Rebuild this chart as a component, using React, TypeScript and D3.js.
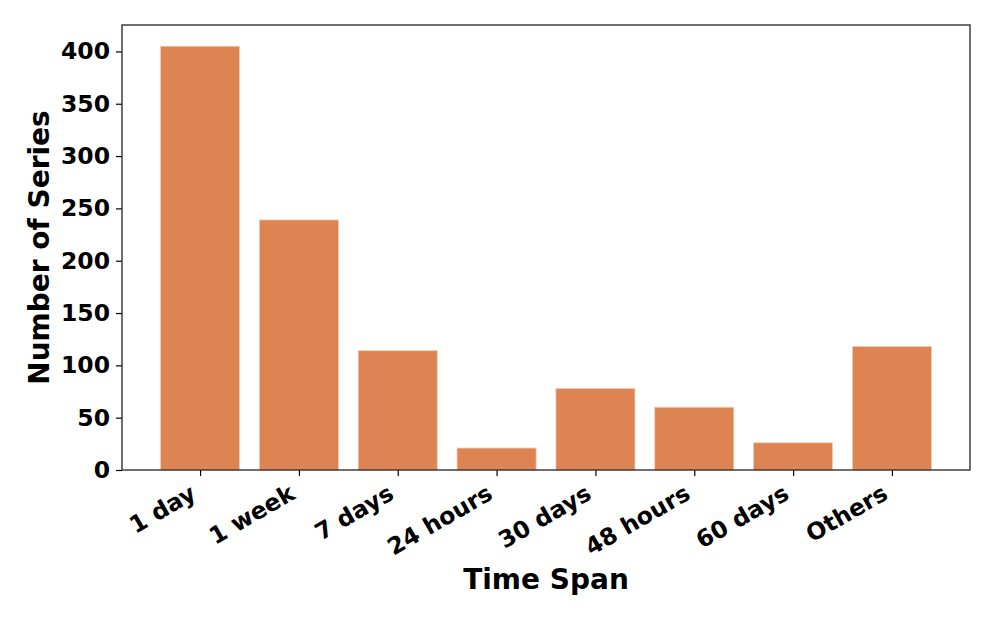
import React, { useEffect, useRef } from 'react';
import * as d3 from 'd3';

const categories = ['1 day', '1 week', '7 days', '24 hours', '30 days', '48 hours', '60 days', 'Others'];
const counts = [405, 239, 114, 21, 78, 60, 26, 118];
const yTicks = [0, 50, 100, 150, 200, 250, 300, 350, 400];

export default function App() {
  const ref = useRef<SVGSVGElement | null>(null);

  useEffect(() => {
    const width = 996;
    const height = 623;
    const left = 122, right = 970, top = 25, bottom = 470;
    const font = 'DejaVu Sans, sans-serif';

    const svg = d3.select(ref.current);
    svg.selectAll('*').remove();

    // matplotlib-like layout: bars 0.8 wide, 5% margins
    const n = categories.length;
    const x = d3.scaleLinear().domain([-0.4 - 0.05 * (n - 0.2), n - 0.6 + 0.05 * (n - 0.2)]).range([left, right]);
    const yMax = d3.max(counts)! * 1.05;
    const y = d3.scaleLinear().domain([0, yMax]).range([bottom, top]);

    svg.selectAll('rect.bar')
      .data(counts)
      .enter()
      .append('rect')
      .attr('class', 'bar')
      .attr('x', (d, i) => x(i - 0.4))
      .attr('y', d => y(d))
      .attr('width', x(0.8) - x(0))
      .attr('height', d => y(0) - y(d))
      .attr('fill', '#dd8452')
      .attr('stroke', '#f3cdb5')
      .attr('stroke-width', 0.8);

    const xAxis = svg.append('g')
      .attr('transform', `translate(0,${bottom})`)
      .call(d3.axisBottom(x).tickValues(d3.range(n)).tickSize(6).tickFormat((d: any) => categories[d]));
    xAxis.select('.domain').remove();
    xAxis.selectAll('.tick line').attr('stroke', '#000').attr('stroke-width', 1.2);
    xAxis.selectAll('.tick text')
      .attr('font-family', font)
      .attr('font-size', 23.5)
      .attr('font-weight', 'bold')
      .attr('fill', '#000')
      .attr('text-anchor', 'end')
      .attr('x', 0)
      .attr('y', 0)
      .attr('dy', 0)
      .attr('transform', 'translate(-3,28) rotate(-30)');

    const yAxis = svg.append('g')
      .attr('transform', `translate(${left},0)`)
      .call(d3.axisLeft(y).tickValues(yTicks).tickSize(6).tickPadding(6));
    yAxis.select('.domain').remove();
    yAxis.selectAll('.tick line').attr('stroke', '#000').attr('stroke-width', 1.2);
    yAxis.selectAll('.tick text')
      .attr('font-family', font)
      .attr('font-size', 23.5)
      .attr('font-weight', 'bold')
      .attr('fill', '#000');

    // frame
    svg.append('rect')
      .attr('x', left)
      .attr('y', top)
      .attr('width', right - left)
      .attr('height', bottom - top)
      .attr('fill', 'none')
      .attr('stroke', '#222')
      .attr('stroke-width', 1.3);

    svg.append('text')
      .attr('x', (left + right) / 2)
      .attr('y', 589)
      .attr('text-anchor', 'middle')
      .attr('font-family', font)
      .attr('font-size', 28)
      .attr('font-weight', 'bold')
      .text('Time Span');

    svg.append('text')
      .attr('transform', `translate(49,${(top + bottom) / 2}) rotate(-90)`)
      .attr('text-anchor', 'middle')
      .attr('font-family', font)
      .attr('font-size', 28)
      .attr('font-weight', 'bold')
      .text('Number of Series');

    svg.attr('width', width).attr('height', height);
  }, []);

  return (
    <div style={{ position: 'absolute', left: 0, top: 0 }}>
      <svg ref={ref} width={996} height={623} style={{ display: 'block', background: '#fff' }} />
    </div>
  );
}
